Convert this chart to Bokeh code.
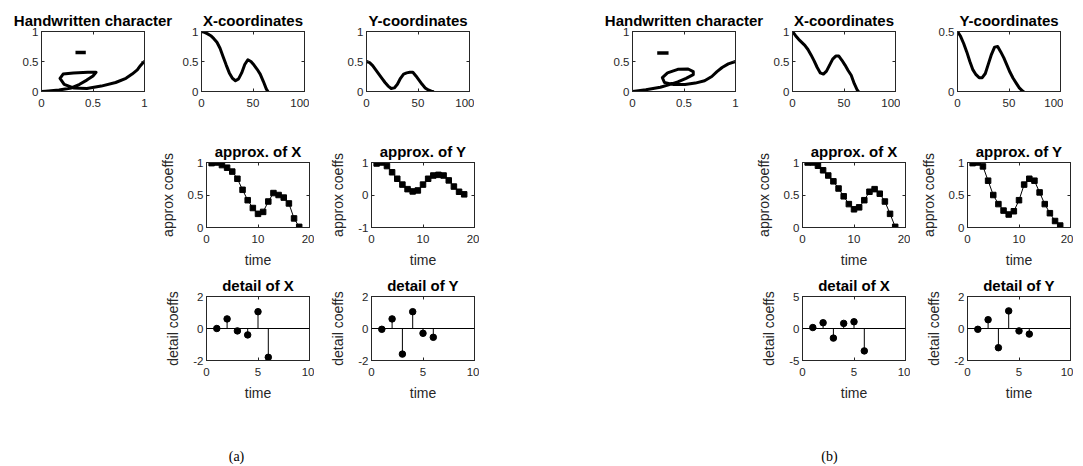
from bokeh.plotting import figure
from bokeh.layouts import column, row, Spacer
from bokeh.models import (Range1d, FixedTicker, LinearAxis, Span, Label,
                          PrintfTickFormatter, CustomJSTickFormatter)
from bokeh.embed import file_html
from bokeh.resources import INLINE

# ---------------- data ----------------
# (a) pen trajectory, sampled in time
t_a = [0, 3, 6, 9, 12, 15, 18, 21, 24, 27, 30, 33, 36, 39, 42, 45, 48, 51, 54, 57, 60, 63, 64.5]
X_a = [1.00, 0.985, 0.96, 0.93, 0.88, 0.82, 0.72, 0.58, 0.44, 0.31, 0.22, 0.18, 0.21, 0.31,
       0.45, 0.53, 0.50, 0.44, 0.37, 0.29, 0.17, 0.04, 0.00]
Y_a = [0.50, 0.48, 0.43, 0.36, 0.29, 0.22, 0.15, 0.09, 0.05, 0.06, 0.12, 0.22, 0.29, 0.31,
       0.32, 0.32, 0.26, 0.19, 0.12, 0.06, 0.025, 0.005, 0.00]
dash_x_a = [0.33, 0.43]
dash_y_a = [0.65, 0.65]

# (b) pen trajectory
t_b = [0, 3, 6, 9, 12, 15, 18, 21, 24, 27, 30, 33, 36, 39, 42, 45, 48, 51, 54, 57, 60, 63, 64]
X_b = [1.00, 0.93, 0.87, 0.82, 0.77, 0.70, 0.61, 0.51, 0.40, 0.31, 0.29, 0.34, 0.44, 0.54,
       0.59, 0.59, 0.52, 0.44, 0.35, 0.27, 0.13, 0.02, 0.00]
Y_b = [0.50, 0.46, 0.40, 0.33, 0.25, 0.18, 0.14, 0.115, 0.115, 0.15, 0.23, 0.31, 0.37, 0.375,
       0.33, 0.28, 0.22, 0.16, 0.11, 0.07, 0.03, 0.005, 0.00]
dash_x_b = [0.24, 0.35]
dash_y_b = [0.64, 0.64]

# approximation coefficients
k_approx = list(range(1, 19))
AX_a = [0.99, 1.00, 0.96, 0.92, 0.86, 0.75, 0.58, 0.42, 0.30, 0.21, 0.24, 0.40, 0.53, 0.50,
        0.46, 0.37, 0.14, 0.01]
AY_a = [0.97, 1.00, 0.89, 0.70, 0.50, 0.32, 0.18, 0.11, 0.14, 0.32, 0.50, 0.60, 0.62, 0.60,
        0.45, 0.26, 0.10, 0.02]
AX_b = [1.00, 1.00, 0.95, 0.88, 0.80, 0.71, 0.60, 0.48, 0.36, 0.28, 0.31, 0.42, 0.55, 0.59,
        0.52, 0.40, 0.21, 0.01]
AY_b = [0.99, 1.00, 0.94, 0.72, 0.50, 0.36, 0.26, 0.20, 0.25, 0.42, 0.66, 0.75, 0.72, 0.54,
        0.36, 0.22, 0.10, 0.03]

# detail coefficients
k_detail = [1, 2, 3, 4, 5, 6]
DX_a = [0.0, 0.6, -0.15, -0.4, 1.05, -1.8]
DY_a = [-0.05, 0.6, -1.6, 1.05, -0.3, -0.55]
DX_b = [0.15, 0.9, -1.5, 0.8, 1.05, -3.5]
DY_b = [-0.05, 0.55, -1.2, 1.1, -0.15, -0.35]

# ---------------- styling helpers ----------------
SANS = "Liberation Sans"
AXC = "#262626"
FW = 103


def style_axis(ax, visible_labels=True, standoff=3, label_standoff=6):
    ax.axis_line_color = AXC
    ax.major_tick_line_color = AXC
    ax.major_tick_in = 3
    ax.major_tick_out = 0
    ax.minor_tick_line_color = None
    if visible_labels:
        ax.major_label_text_font = SANS
        ax.major_label_text_font_size = "11.5px"
        ax.major_label_text_color = AXC
        ax.major_label_standoff = standoff
        ax.axis_label_text_font = SANS
        ax.axis_label_text_font_size = "14px"
        ax.axis_label_text_font_style = "normal"
        ax.axis_label_text_color = AXC
        ax.axis_label_standoff = label_standoff
    else:
        ax.major_label_text_font_size = "0px"
        ax.major_label_standoff = 0


def mk(xr, yr, xt, yt, title, L, R, T, B, fh, xlabel=None, ylabel=None):
    p = figure(frame_width=FW, frame_height=fh, x_range=Range1d(*xr), y_range=Range1d(*yr),
               x_axis_type=None, y_axis_type=None, output_backend="svg",
               toolbar_location=None, min_border_left=L, min_border_right=R,
               min_border_top=T, min_border_bottom=B, title=title)
    p.outline_line_color = AXC
    p.background_fill_color = "white"
    p.border_fill_color = "white"
    p.title.align = "center"
    p.title.text_font = SANS
    p.title.text_font_size = "15px"
    p.title.text_font_style = "bold"
    p.title.text_color = "black"
    p.title.standoff = 6
    for side, ticks, lab, so, lso in (("below", xt, xlabel, 7, 6), ("left", yt, ylabel, 3, 9)):
        ax = LinearAxis(ticker=FixedTicker(ticks=ticks, minor_ticks=[]),
                        formatter=PrintfTickFormatter(format="%g"))
        style_axis(ax, standoff=so, label_standoff=lso)
        if lab:
            ax.axis_label = lab
        p.add_layout(ax, side)
    for side, ticks in (("above", xt), ("right", yt)):
        ax = LinearAxis(ticker=FixedTicker(ticks=ticks, minor_ticks=[]),
                        formatter=CustomJSTickFormatter(code="return ''"))
        style_axis(ax, visible_labels=False)
        p.add_layout(ax, side)
    return p


def curve(p, x, y):
    p.line(x, y, line_color="black", line_width=3, line_join="round", line_cap="round")


def approx(p, k, v):
    p.line(k, v, line_color="black", line_width=1)
    p.scatter(k, v, marker="square", size=5.5, color="black")


def detail(p, k, v):
    p.add_layout(Span(location=0, dimension="width", line_color="black", line_width=1))
    p.segment(x0=k, y0=[0] * len(k), x1=k, y1=v, line_color="black", line_width=1)
    p.scatter(k, v, marker="circle", size=6.5, color="black")


H1, H2, H3 = 60, 65, 64
T1, B1 = 31, 25
T2, B2 = 46, 44
T3, B3 = 24, 45

# ---------------- row 1 ----------------
a1 = mk((0, 1), (0, 1), [0, 0.5, 1], [0, 0.5, 1], "Handwritten character", 41, 30, T1, B1, H1)
curve(a1, X_a, Y_a)
a1.line(dash_x_a, dash_y_a, line_color="black", line_width=3.5)
a2 = mk((0, 100), (0, 1), [0, 50, 100], [0, 0.5, 1], "X-coordinates", 27, 5, T1, B1, H1)
curve(a2, t_a, X_a)
a3 = mk((0, 100), (0, 1), [0, 50, 100], [0, 0.5, 1], "Y-coordinates", 57, 5, T1, B1, H1)
curve(a3, t_a, Y_a)

b1 = mk((0, 1), (0, 1), [0, 0.5, 1], [0, 0.5, 1], "Handwritten character", 40, 30, T1, B1, H1)
curve(b1, X_b, Y_b)
b1.line(dash_x_b, dash_y_b, line_color="black", line_width=3.5)
b2 = mk((0, 100), (0, 1), [0, 50, 100], [0, 0.5, 1], "X-coordinates", 27, 5, T1, B1, H1)
curve(b2, t_b, X_b)
b3 = mk((0, 100), (0, 0.5), [0, 50, 100], [0, 0.5], "Y-coordinates", 57, 3, T1, B1, H1)
curve(b3, t_b, Y_b)

h_r1 = T1 + H1 + B1
row1 = row(a1, a2, a3, Spacer(width=118, height=h_r1), b1, b2, b3)

# ---------------- row 2 ----------------
ma2 = mk((0, 20), (0, 1), [0, 10, 20], [0, 0.5, 1], "approx. of X", 62, 5, T2, B2, H2,
         xlabel="time", ylabel="approx coeffs")
approx(ma2, k_approx, AX_a)
ma3 = mk((0, 20), (-1, 1), [0, 10, 20], [-1, 0, 1], "approx. of Y", 57, 5, T2, B2, H2,
         xlabel="time", ylabel="approx coeffs")
approx(ma3, k_approx, AY_a)
mb2 = mk((0, 20), (0, 1), [0, 10, 20], [0, 0.5, 1], "approx. of X", 62, 5, T2, B2, H2,
         xlabel="time", ylabel="approx coeffs")
approx(mb2, k_approx, AX_b)
mb3 = mk((0, 20), (0, 1), [0, 10, 20], [0, 0.5, 1], "approx. of Y", 57, 3, T2, B2, H2,
         xlabel="time", ylabel="approx coeffs")
approx(mb3, k_approx, AY_b)

h_r2 = T2 + H2 + B2
row2 = row(Spacer(width=144, height=h_r2), ma2, ma3, Spacer(width=261, height=h_r2), mb2, mb3)

# ---------------- row 3 ----------------
da2 = mk((0, 10), (-2, 2), [0, 5, 10], [-2, 0, 2], "detail of X", 62, 5, T3, B3, H3,
         xlabel="time", ylabel="detail coeffs")
detail(da2, k_detail, DX_a)
da3 = mk((0, 10), (-2, 2), [0, 5, 10], [-2, 0, 2], "detail of Y", 57, 5, T3, B3, H3,
         xlabel="time", ylabel="detail coeffs")
detail(da3, k_detail, DY_a)
db2 = mk((0, 10), (-5, 5), [0, 5, 10], [-5, 0, 5], "detail of X", 62, 5, T3, B3, H3,
         xlabel="time", ylabel="detail coeffs")
detail(db2, k_detail, DX_b)
db3 = mk((0, 10), (-2, 2), [0, 5, 10], [-2, 0, 2], "detail of Y", 57, 3, T3, B3, H3,
         xlabel="time", ylabel="detail coeffs")
detail(db3, k_detail, DY_b)

h_r3 = T3 + H3 + B3
row3 = row(Spacer(width=144, height=h_r3), da2, da3, Spacer(width=261, height=h_r3), db2, db3)

# ---------------- captions ----------------
CAP_W, CAP_H = 1073, 62
cap = figure(width=CAP_W, height=CAP_H, x_range=Range1d(0, CAP_W), y_range=Range1d(0, CAP_H),
             x_axis_type=None, y_axis_type=None, output_backend="svg", toolbar_location=None,
             min_border=0)
cap.outline_line_color = None
cap.border_fill_color = "white"
for txt, xpos in (("(a)", 236), ("(b)", 829)):
    cap.add_layout(Label(x=xpos, y=11, text=txt, text_font="Liberation Serif",
                         text_font_size="14px", text_align="center",
                         text_baseline="middle", text_color="black"))

layout = column(row1, row2, row3, cap)

open("out.html", "w").write(file_html(layout, INLINE))
